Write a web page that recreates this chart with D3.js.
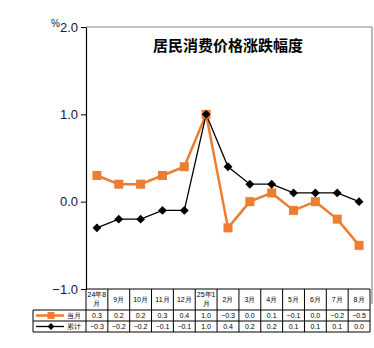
<!DOCTYPE html>
<html><head><meta charset="utf-8">
<script src="https://cdn.jsdelivr.net/npm/d3@7"></script>
<style>body{margin:0;background:#fff}svg{display:block}</style>
</head><body>
<script>
const title = "居民消费价格涨跌幅度";
const categories = ["24年8月","9月","10月","11月","12月","25年1月","2月","3月","4月","5月","6月","7月","8月"];
const headerLines = [["24年8","月"],["9月"],["10月"],["11月"],["12月"],["25年1","月"],["2月"],["3月"],["4月"],["5月"],["6月"],["7月"],["8月"]];
const seriesNames = ["当月","累计"];
const monthly = [0.3,0.2,0.2,0.3,0.4,1.0,-0.3,0.0,0.1,-0.1,0.0,-0.2,-0.5];
const cumulative = [-0.3,-0.2,-0.2,-0.1,-0.1,1.0,0.4,0.2,0.2,0.1,0.1,0.1,0.0];
const yTicks = [-1.0,0.0,1.0,2.0];
const unit = "%";

const W=374,H=348;
const svg=d3.select("body").append("svg").attr("width",W).attr("height",H);
const font="Liberation Sans, Arial, sans-serif";
const orange="#ED7D31";

const x=d3.scaleBand().domain(categories).range([86,370]).padding(0);
const y=d3.scaleLinear().domain([-1,2]).range([289,27]);
const cx=d=>x(d)+x.bandwidth()/2;

// frame (gray top and right)
svg.append("line").attr("x1",86).attr("x2",372).attr("y1",27).attr("y2",27).attr("stroke","#888").attr("stroke-width",1.2);
svg.append("line").attr("x1",372).attr("x2",372).attr("y1",27).attr("y2",304).attr("stroke","#888").attr("stroke-width",1.2);

// y axis
const ax=svg.append("g").attr("transform","translate(86,0)")
  .call(d3.axisLeft(y).tickValues(yTicks).tickFormat(d3.format(".1f")).tickSize(5).tickSizeOuter(0));
ax.select(".domain").attr("stroke","#000").attr("stroke-width",1.2);
ax.selectAll(".tick line").attr("stroke","#000");
ax.selectAll(".tick text").attr("font-family",font).attr("font-size",13).attr("fill","#14143c").attr("x",-8);

svg.append("text").attr("x",51).attr("y",27).attr("font-family",font).attr("font-size",10).attr("fill","#14143c").text(unit);

// title
svg.append("text").attr("x",228).attr("y",51).attr("text-anchor","middle")
  .attr("font-family","Noto Sans CJK SC, sans-serif").attr("font-weight","bold").attr("font-size",15).text(title);

// lines
const line=d3.line().x((d,i)=>cx(categories[i])).y(d=>y(d));
svg.append("path").datum(monthly).attr("d",line).attr("fill","none").attr("stroke",orange).attr("stroke-width",2.5);
svg.append("path").datum(cumulative).attr("d",line).attr("fill","none").attr("stroke","#000").attr("stroke-width",1.3);

svg.append("g").selectAll("rect").data(monthly).join("rect")
  .attr("x",(d,i)=>cx(categories[i])-4.5).attr("y",d=>y(d)-4.5).attr("width",9).attr("height",9).attr("fill",orange);
const diamond=d3.symbol().type(d3.symbolDiamond2).size(50);
svg.append("g").selectAll("path").data(cumulative).join("path")
  .attr("d",diamond).attr("transform",(d,i)=>`translate(${cx(categories[i])},${y(d)})`).attr("fill","#000");

// table
const tb=svg.append("g").attr("stroke","#000").attr("stroke-width",1);
const r0=289,r1=310,r2=321,r3=332;
tb.append("line").attr("x1",86).attr("x2",370).attr("y1",r0).attr("y2",r0);
tb.append("line").attr("x1",33).attr("x2",370).attr("y1",r1).attr("y2",r1);
tb.append("line").attr("x1",33).attr("x2",370).attr("y1",r2).attr("y2",r2);
tb.append("line").attr("x1",33).attr("x2",370).attr("y1",r3).attr("y2",r3);
tb.append("line").attr("x1",33).attr("x2",33).attr("y1",r1).attr("y2",r3);
const xs=categories.map(c=>x(c)).concat([370]);
xs.forEach(v=>tb.append("line").attr("x1",v).attr("x2",v).attr("y1",r0).attr("y2",r3));

const tt=svg.append("g").attr("font-family",font).attr("font-size",7).attr("text-anchor","middle").attr("fill","#000");
categories.forEach((c,i)=>{
  const ls=headerLines[i];
  ls.forEach((l,j)=>{
    const yy = ls.length===1 ? (r0+r1)/2+2.5 : r0+8+j*9;
    tt.append("text").attr("x",cx(c)).attr("y",yy).text(l);
  });
  tt.append("text").attr("x",cx(c)).attr("y",r1+8).text(d3.format(".1f")(monthly[i]));
  tt.append("text").attr("x",cx(c)).attr("y",r2+8).text(d3.format(".1f")(cumulative[i]));
});

// legend cells
svg.append("line").attr("x1",36).attr("x2",64).attr("y1",(r1+r2)/2).attr("y2",(r1+r2)/2).attr("stroke",orange).attr("stroke-width",2.5);
svg.append("rect").attr("x",47.5).attr("y",(r1+r2)/2-3.5).attr("width",7).attr("height",7).attr("fill",orange);
svg.append("line").attr("x1",36).attr("x2",64).attr("y1",(r2+r3)/2).attr("y2",(r2+r3)/2).attr("stroke","#000").attr("stroke-width",1.3);
svg.append("path").attr("d",d3.symbol().type(d3.symbolDiamond2).size(30)).attr("transform",`translate(51,${(r2+r3)/2})`).attr("fill","#000");
svg.append("text").attr("x",74).attr("y",r1+8).attr("text-anchor","middle").attr("font-family",font).attr("font-size",7).text(seriesNames[0]);
svg.append("text").attr("x",74).attr("y",r2+8).attr("text-anchor","middle").attr("font-family",font).attr("font-size",7).text(seriesNames[1]);
</script>
</body></html>
